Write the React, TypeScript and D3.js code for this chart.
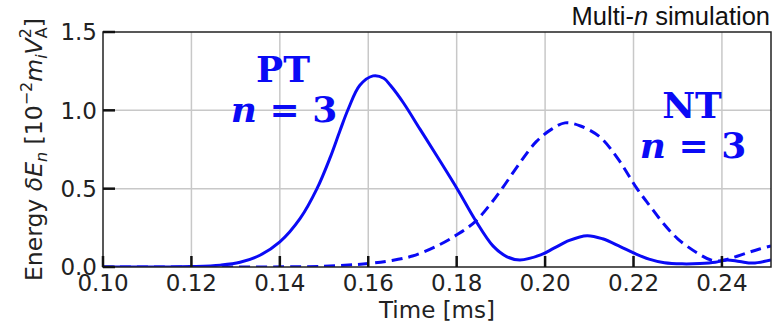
import React from 'react';
import * as d3 from 'd3';

// PT n=3 (solid)
const ptTime = [0.100, 0.115, 0.120, 0.1265, 0.131, 0.1355, 0.140, 0.1446, 0.1484, 0.1514, 0.1536, 0.1555, 0.1581, 0.1611, 0.1635, 0.165, 0.1679, 0.1717, 0.1756, 0.1803, 0.1842, 0.1882, 0.1914, 0.1943, 0.199, 0.202, 0.2055, 0.2095, 0.213, 0.217, 0.220, 0.2235, 0.227, 0.231, 0.235, 0.2385, 0.241, 0.244, 0.247, 0.2511];
const ptEnergy = [0.0, 0.0, 0.003, 0.012, 0.03, 0.075, 0.16, 0.31, 0.50, 0.70, 0.87, 1.01, 1.16, 1.22, 1.205, 1.16, 1.05, 0.88, 0.705, 0.49, 0.30, 0.135, 0.065, 0.045, 0.077, 0.12, 0.17, 0.20, 0.18, 0.13, 0.09, 0.05, 0.027, 0.02, 0.022, 0.03, 0.045, 0.035, 0.025, 0.045];

// NT n=3 (dashed)
const ntTime = [0.100, 0.130, 0.150, 0.160, 0.165, 0.170, 0.1756, 0.1803, 0.1842, 0.1876, 0.1905, 0.1943, 0.198, 0.2015, 0.2045, 0.208, 0.2124, 0.2165, 0.2208, 0.2237, 0.2267, 0.230, 0.2344, 0.2375, 0.240, 0.2425, 0.2457, 0.2485, 0.2511];
const ntEnergy = [0.0, 0.0, 0.005, 0.022, 0.04, 0.07, 0.135, 0.21, 0.29, 0.40, 0.51, 0.665, 0.80, 0.88, 0.92, 0.90, 0.83, 0.69, 0.50, 0.39, 0.28, 0.18, 0.09, 0.045, 0.04, 0.06, 0.09, 0.115, 0.135];

const xTicks = [0.10, 0.12, 0.14, 0.16, 0.18, 0.20, 0.22, 0.24];
const yTicks = [0.0, 0.5, 1.0, 1.5];

const BLUE = '#0a0af5';

export default function App() {
    const width = 778;
    const height = 327;
    const margin = {top: 32, right: 7, bottom: 60, left: 103};

    const x = d3.scaleLinear().domain([0.10, 0.2511]).range([margin.left, width - margin.right]);
    const y = d3.scaleLinear().domain([0, 1.5]).range([height - margin.bottom, margin.top]);

    const line = d3
        .line<number>()
        .x((d) => x(d))
        .curve(d3.curveCatmullRom.alpha(0.5));

    const ptPath = line.y((_, i) => y(ptEnergy[i]))(ptTime);
    const ntPath = line.y((_, i) => y(ntEnergy[i]))(ntTime);

    const x0 = x.range()[0];
    const x1 = x.range()[1];
    const y0 = y.range()[0];
    const y1 = y.range()[1];
    const tickFont = 'DejaVu Sans, sans-serif';

    return (
        <svg width={width} height={height} style={{position: 'absolute', left: 0, top: 0, background: '#fff'}}>
            <defs>
                <clipPath id="plot">
                    <rect x={x0} y={y1 - 5} width={x1 - x0} height={y0 - y1 + 5} />
                </clipPath>
            </defs>

            {/* grid */}
            {xTicks.slice(1).map((t) => (
                <line key={'gx' + t} x1={x(t)} x2={x(t)} y1={y0} y2={y1} stroke="#c8c8c8" strokeWidth={1.5} />
            ))}
            {yTicks.slice(1, 3).map((t) => (
                <line key={'gy' + t} x1={x0} x2={x1} y1={y(t)} y2={y(t)} stroke="#c8c8c8" strokeWidth={1.5} />
            ))}

            {/* curves */}
            <g clipPath="url(#plot)">
                <path d={ntPath} fill="none" stroke={BLUE} strokeWidth={3} strokeDasharray="11,6" />
                <path d={ptPath} fill="none" stroke={BLUE} strokeWidth={3} />
            </g>

            {/* frame */}
            <rect x={x0} y={y1} width={x1 - x0} height={y0 - y1} fill="none" stroke="#222" strokeWidth={1.5} />

            {/* ticks */}
            {xTicks.map((t) => (
                <g key={'tx' + t}>
                    <line x1={x(t)} x2={x(t)} y1={y0} y2={y0 - 11} stroke="#111" strokeWidth={2.5} />
                    <text x={x(t)} y={291} textAnchor="middle" fontFamily={tickFont} fontSize={23} fill="#222">
                        {t.toFixed(2)}
                    </text>
                </g>
            ))}
            {yTicks.map((t) => (
                <g key={'ty' + t}>
                    <line x1={x0} x2={x0 + 12} y1={y(t)} y2={y(t)} stroke="#111" strokeWidth={2.5} />
                    <text x={97} y={y(t)} dy="0.36em" textAnchor="end" fontFamily={tickFont} fontSize={23} fill="#222">
                        {t.toFixed(1)}
                    </text>
                </g>
            ))}

            {/* axis labels */}
            <text x={(x0 + x1) / 2} y={318} textAnchor="middle" fontFamily={tickFont} fontSize={23} fill="#222">
                Time [ms]
            </text>
            <text
                transform={`translate(42,${(y0 + y1) / 2}) rotate(-90)`}
                textAnchor="middle"
                fontFamily={tickFont}
                fontSize={23.5}
                fill="#222"
            >
                <tspan>Energy </tspan>
                <tspan fontStyle="italic">δE</tspan>
                <tspan fontStyle="italic" fontSize={16} dy={5}>n</tspan>
                <tspan dy={-5}> [10</tspan>
                <tspan fontSize={16} dy={-10}>−2</tspan>
                <tspan fontStyle="italic" dy={10}>m</tspan>
                <tspan fontStyle="italic" fontSize={16} dy={5}>i</tspan>
                <tspan fontStyle="italic" dy={-5}>V</tspan>
                <tspan fontSize={16} dy={-11}>2</tspan>
                <tspan fontSize={16} dx={-10} dy={16}>A</tspan>
                <tspan dy={-5}>]</tspan>
            </text>

            {/* annotations */}
            <text x={770} y={25} textAnchor="end" fontFamily="Liberation Sans, Arial, sans-serif" fontSize={25.5} fill="#111">
                Multi-<tspan fontStyle="italic">n</tspan> simulation
            </text>
            <g fill={BLUE} fontFamily="DejaVu Serif, serif" fontWeight="bold" textAnchor="middle">
                <text x={283} y={82} fontSize={36}>PT</text>
                <text x={284} y={122} fontSize={36}>
                    <tspan fontStyle="italic">n</tspan> = 3
                </text>
                <text x={692} y={118} fontSize={36}>NT</text>
                <text x={693} y={158} fontSize={36}>
                    <tspan fontStyle="italic">n</tspan> = 3
                </text>
            </g>
        </svg>
    );
}
